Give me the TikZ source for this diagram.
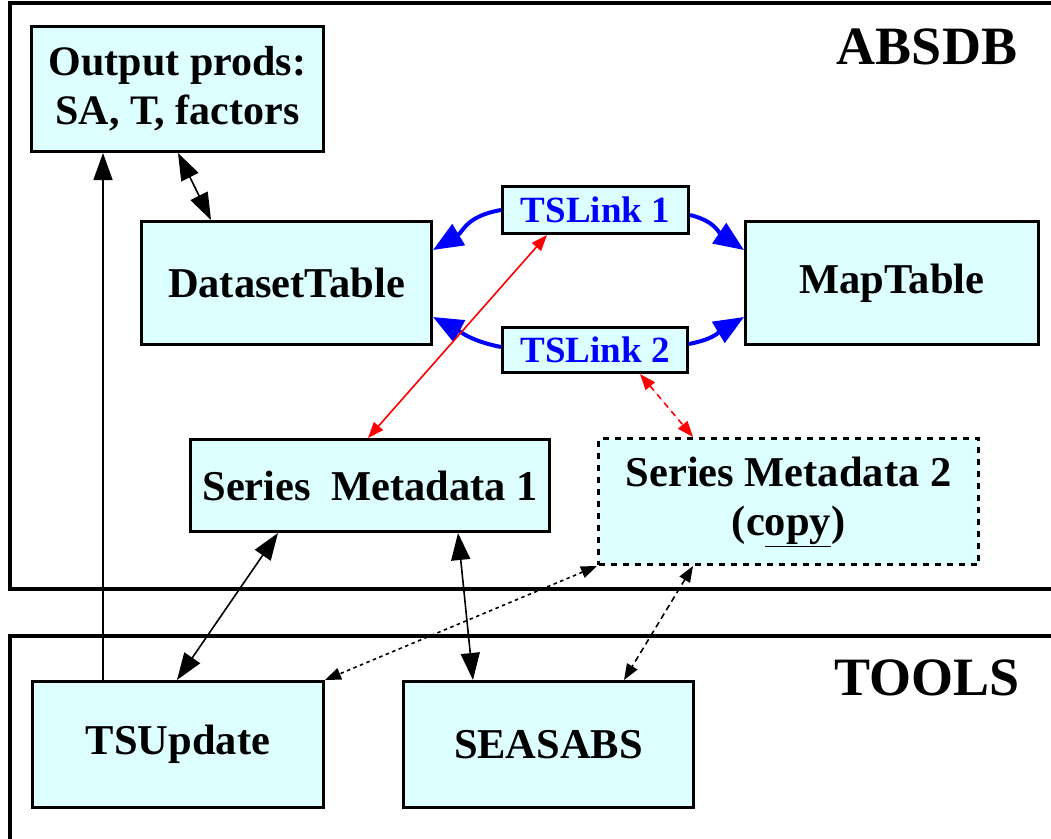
\documentclass[tikz,border=0pt]{standalone}
\usepackage{fontspec}
\setmainfont{Liberation Serif}
\usetikzlibrary{arrows.meta,calc}
\definecolor{boxfill}{RGB}{221,255,255}
\definecolor{linkblue}{RGB}{0,0,255}
\definecolor{linkred}{RGB}{255,0,0}
\begin{document}
\begin{tikzpicture}[x=1pt,y=-1pt,
  box/.style={draw, line width=3pt, fill=boxfill, align=center, inner sep=0pt,
    anchor=north west, font=\bfseries\fontsize{42.5}{49}\selectfont},
  linkbox/.style={box, text=linkblue, font=\bfseries\fontsize{37}{40}\selectfont},
  container/.style={draw, line width=3.5pt},
  biglabel/.style={font=\bfseries\fontsize{54}{60}\selectfont},
  arr/.style={line width=1.6pt, -{Triangle[length=27pt,width=19pt]}},
  darr/.style={line width=1.6pt, {Triangle[length=27pt,width=19pt]}-{Triangle[length=27pt,width=19pt]}},
  redarr/.style={line width=1.6pt, draw=linkred, {Triangle[length=16pt,width=12pt]}-{Triangle[length=16pt,width=12pt]}, fill=linkred},
  dotarr/.style={line width=1.6pt, dash pattern=on 3.5pt off 3.5pt, {Triangle[length=16pt,width=12pt]}-{Triangle[length=16pt,width=12pt]}},
  bluearr/.style={line width=4pt, draw=linkblue, -{Triangle[length=30pt,width=24pt]}}
]
\useasboundingbox (0,0) rectangle (1051,838);
\clip (0,0) rectangle (1051,838);

% containers
\draw[container] (1070,589) -- (10,589) -- (10,3) -- (1070,3);
\draw[container] (1070,636) -- (10,636) -- (10,850);
\node[biglabel] (absdb) at (927,47) {ABSDB};
\node[biglabel] (tools) at (927,678) {TOOLS};

% nodes
\node[box, minimum width=292pt, minimum height=125pt, font=\bfseries\fontsize{42}{49}\selectfont] (out) at (30,25) {Output prods:\\SA, T, factors};
\node[box, minimum width=290pt, minimum height=123pt] (ds) at (140,220) {DatasetTable};
\node[box, minimum width=293pt, minimum height=123pt] (map) at (744,220) {MapTable};
\node[linkbox, minimum width=186pt, minimum height=47pt] (tsl1) at (501,185) {TSLink 1};
\node[linkbox, minimum width=185pt, minimum height=45pt] (tsl2) at (501,326) {TSLink 2};
\node[box, minimum width=359pt, minimum height=92pt] (sm1) at (189,438) {Series\hspace{0.22em} Metadata 1};
\node[box, minimum width=380pt, minimum height=126pt, dash pattern=on 6pt off 6pt] (sm2) at (597,437) {Series Metadata 2\\(c\underline{opy})};
\node[box, minimum width=291pt, minimum height=126pt] (tsu) at (31,680) {TSUpdate};
\node[box, minimum width=290pt, minimum height=126pt] (sea) at (402,680) {SEASABS};

% connectors
\draw[arr] ([xshift=72pt]tsu.north west) -- ([xshift=73pt]out.south west);
\draw[darr] ([xshift=148pt]out.south west) -- ([xshift=71pt]ds.north west);

\draw[bluearr] (tsl1.west) .. controls +(-35,6) and +(30,-18) .. ([yshift=-30pt]ds.north east);
\draw[bluearr] ([yshift=-30pt]tsl1.north east) .. controls +(25,6) and +(-25,-17) .. ([yshift=-30pt]map.north west);
\draw[bluearr] ([yshift=3pt]tsl2.west) .. controls +(-30,-6) and +(28,15) .. ([yshift=29pt]ds.south east);
\draw[bluearr] ([yshift=6pt]tsl2.east) .. controls +(25,-5) and +(-25,15) .. ([yshift=29pt]map.south west);

\draw[redarr] ([xshift=46pt]tsl1.south west) -- ([xshift=179pt]sm1.north west);
\draw[redarr, dash pattern=on 6pt off 5pt] ([xshift=139pt]tsl2.south west) -- ([xshift=96pt]sm2.north west);

\draw[darr] ([xshift=89pt]sm1.south west) -- ([xshift=146pt]tsu.north west);
\draw[darr] ([xshift=269pt]sm1.south west) -- ([xshift=71pt]sea.north west);

\draw[dotarr] (sm2.south west) -- (tsu.north east);
\draw[dotarr, dash pattern=on 6pt off 4pt] ([xshift=96pt]sm2.south west) -- ([xshift=222pt]sea.north west);
\end{tikzpicture}
\end{document}
